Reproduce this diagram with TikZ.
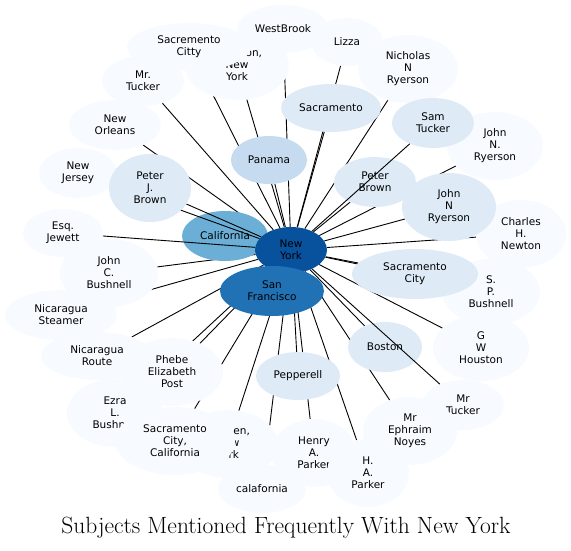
\documentclass[tikz,border=0pt]{standalone}
\usepackage{fontspec}
\newfontfamily\labelfont{DejaVu Sans}
\usetikzlibrary{shapes.geometric}
\definecolor{rare}{HTML}{F7FBFF}
\definecolor{some}{HTML}{DEEBF7}
\definecolor{panama}{HTML}{C6DBEF}
\definecolor{calif}{HTML}{6BAED6}
\definecolor{sanfran}{HTML}{2171B5}
\definecolor{newyork}{HTML}{08519C}
\pgfdeclarelayer{back}
\pgfdeclarelayer{dark}
\pgfdeclarelayer{over}
\pgfdeclarelayer{front}
\pgfsetlayers{back,dark,over,main,front}
\tikzset{
  word/.style={ellipse, inner sep=0pt, align=center,
    font=\labelfont\fontsize{10.5}{12}\selectfont},
  link/.style={line width=0.9pt},
}
\begin{document}
\begin{tikzpicture}[x=1pt,y=-1pt]
\useasboundingbox (0,0) rectangle (571,550);
% rarely mentioned
\foreach \n/\x/\y/\w/\h/\t in {
  wny/237/66/52/34/{\rule{3.2em}{0pt}on,\\New\\York},
  scity/189/47/62/24/{Sacremento\\Citty},
  wb/283/29/46/24/{WestBrook},
  lizza/347/42/36/24/{Lizza},
  nnr/408/69/50/34/{Nicholas\\N\\Ryerson},
  mrta/143/81/41/25/{Mr.\\Tucker},
  nor/115/125/46/25/{New\\Orleans},
  nj/78/173/39/25/{New\\Jersey},
  jnra/495/146/48/34/{John\\N.\\Ryerson},
  chn/521/234/45/34/{Charles\\H.\\Newton},
  jew/63/233/40/24/{Esq.\\Jewett},
  jcb/109/273/49/34/{John\\C.\\Bushnell},
  nst/61/315/56/25/{Nicaragua\\Steamer},
  spb/491/292/49/33/{S.\\P.\\Bushnell},
  nrt/97/356/56/24/{Nicaragua\\Route},
  gwh/481/348/48/33/{G\\W\\Houston},
  pep/172/372/51/34/{Phebe\\Elizabeth\\Post},
  mrtb/463/405/41/25/{Mr\\Tucker},
  ezra/115/413/48/34/{Ezra\\L.\\Bushnell},
  wnyb/228/444/50/34/{\rule{2.6em}{0pt}en,\\New\\York},
  scc/175/441/60/34/{Sacramento\\City,\\California},
  noyes/410/431/47/34/{Mr\\Ephraim\\Noyes},
  hap/314/453/42/34/{Henry\\A.\\Parker},
  hpk/368/473/41/34/{H.\\A.\\Parker},
  cala/262/489/44/24/{calafornia}} {
  \node[word, fill=rare, minimum width={2*\w pt}, minimum height={2*\h pt}] (\n) at (\x,\y) {\t};
}
% mentioned more often
\foreach \n/\x/\y/\w/\h/\t in {
  sac/331/108/50/24/{Sacramento},
  samt/433/123/41/25/{Sam\\Tucker},
  pb/375/182/41/25/{Peter\\Brown},
  pjb/150/188/41/34/{Peter\\J.\\Brown},
  jnrb/449/207/47/34/{John\\N\\Ryerson},
  sacc/415/274/63/25/{Sacramento\\City},
  bos/385/347/37/25/{Boston},
  pepl/298/376/42/24/{Pepperell}} {
  \node[word, fill=some, minimum width={2*\w pt}, minimum height={2*\h pt}] (\n) at (\x,\y) {\t};
}
% most often
\begin{pgfonlayer}{dark}
\foreach \n/\x/\y/\w/\h/\c/\t in {
  pan/269/160/38/24/panama/{Panama},
  cal/225/236/43/25/calif/{California},
  ny/291/250/36/23/newyork/{New\\York},
  sf/272/291/52/25/sanfran/{San\\Francisco}} {
  \node[word, fill=\c, minimum width={2*\w pt}, minimum height={2*\h pt}] (\n) at (\x,\y) {\t};
}
\end{pgfonlayer}
\begin{pgfonlayer}{back}
\foreach \n in {wny,scity,wb,lizza,nnr,mrta,nor,jnra,chn,jcb,nst,spb,nrt,
  gwh,pep,ezra,wnyb,scc,noyes,hap,hpk,cala,sac,pb,jnrb,sacc,bos,pepl,pan,sf} {
  \draw[link] (\n) -- (ny);
}
\end{pgfonlayer}
\begin{pgfonlayer}{over}
\foreach \n in {jew,nj,pjb} {
  \draw[link] (\n) -- (ny);
}
\end{pgfonlayer}
\begin{pgfonlayer}{front}
\foreach \n in {samt,mrtb} {
  \draw[link] (\n) -- (ny);
}
\end{pgfonlayer}
\node (title) at (286,528) {\fontsize{23.5}{28}\selectfont Subjects Mentioned Frequently With New York};
\end{tikzpicture}
\end{document}
